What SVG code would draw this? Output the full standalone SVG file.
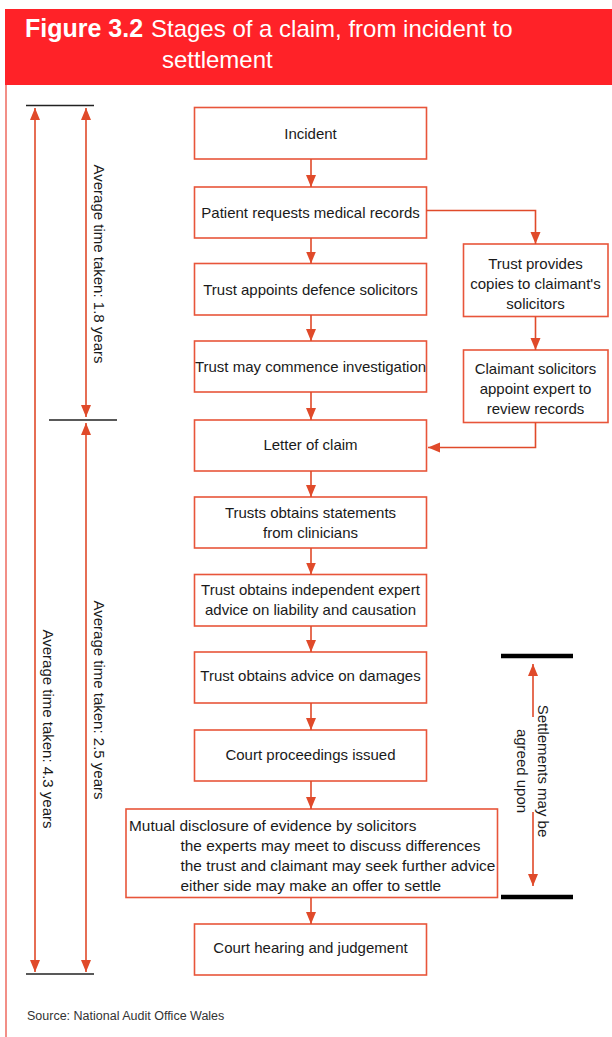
<svg xmlns="http://www.w3.org/2000/svg" width="612" height="1037" viewBox="0 0 612 1037">
<style>
  .box{fill:#fff;stroke:#E8553A;stroke-width:1.6}
  .t{font-family:"Liberation Sans",Arial,sans-serif;font-size:15px;fill:#1a1a1a;text-anchor:middle}
  .tl{font-family:"Liberation Sans",Arial,sans-serif;font-size:15.4px;fill:#1a1a1a}
  .c{fill:none;stroke:#E04A2A;stroke-width:1.6}
  .bar{stroke:#222;stroke-width:1.5}
  .thick{stroke:#000;stroke-width:4.5}
  .hd{font-family:"Liberation Sans",Arial,sans-serif;fill:#fff}
</style>
<defs>
  <marker id="ah" markerUnits="userSpaceOnUse" markerWidth="13" markerHeight="11" refX="12" refY="5" orient="auto-start-reverse" viewBox="0 0 13 11">
    <path d="M0,0 L12,5 L0,10 z" fill="#E04A2A"/>
  </marker>
</defs>
<rect x="0" y="0" width="612" height="1037" fill="#fff"/>
<g id="header">
  <rect x="5" y="9" width="607" height="76" fill="#FF2228"/>
  <text class="hd" x="25" y="37" font-size="25" font-weight="bold">Figure 3.2</text>
  <text class="hd" x="151" y="37" font-size="24">Stages of a claim, from incident to</text>
  <text class="hd" x="162" y="68" font-size="24">settlement</text>
</g>
<line x1="6" y1="85" x2="6" y2="1037" stroke="#EE6A5F" stroke-width="1.5"/>

<g id="timeline">
  <line class="bar" x1="26" y1="105.5" x2="94" y2="105.5"/>
  <line class="bar" x1="49" y1="420" x2="117" y2="420"/>
  <line class="bar" x1="26" y1="974" x2="94" y2="974"/>
  <text class="t" transform="translate(94,264) rotate(90)">Average time taken: 1.8 years</text>
  <text class="t" transform="translate(94,700) rotate(90)">Average time taken: 2.5 years</text>
  <text class="t" transform="translate(43,729) rotate(90)">Average time taken: 4.3 years</text>
</g>

<g id="settlement-range">
  <line class="thick" x1="501" y1="656" x2="573" y2="656"/>
  <line class="thick" x1="501" y1="897" x2="573" y2="897"/>
  <text class="t" transform="translate(538,771) rotate(90)">Settlements may be</text>
  <text class="t" transform="translate(517,771) rotate(90)">agreed upon</text>
</g>

<g id="n1"><rect class="box" x="194.5" y="107.5" width="232" height="51.5"/><text class="t" x="310.5" y="139">Incident</text></g>
<g id="n2"><rect class="box" x="194.5" y="187" width="232" height="51"/><text class="t" x="310.5" y="218">Patient requests medical records</text></g>
<g id="n3"><rect class="box" x="194.5" y="263.5" width="232" height="51.5"/><text class="t" x="310.5" y="295">Trust appoints defence solicitors</text></g>
<g id="n4"><rect class="box" x="194.5" y="341" width="232" height="51"/><text class="t" x="310.5" y="372">Trust may commence investigation</text></g>
<g id="n5"><rect class="box" x="194.5" y="420" width="232" height="51"/><text class="t" x="310.5" y="450">Letter of claim</text></g>
<g id="n6"><rect class="box" x="194.5" y="497" width="232" height="51"/><text class="t" x="310.5" y="518">Trusts obtains statements</text><text class="t" x="310.5" y="538">from clinicians</text></g>
<g id="n7"><rect class="box" x="194.5" y="574.5" width="232" height="51.5"/><text class="t" x="310.5" y="595">Trust obtains independent expert</text><text class="t" x="310.5" y="615">advice on liability and causation</text></g>
<g id="n8"><rect class="box" x="194.5" y="652" width="232" height="51"/><text class="t" x="310.5" y="681">Trust obtains advice on damages</text></g>
<g id="n9"><rect class="box" x="194.5" y="730" width="232" height="51"/><text class="t" x="310.5" y="760">Court proceedings issued</text></g>
<g id="n10"><rect class="box" x="126" y="809" width="371.5" height="88.5"/>
  <text class="tl" x="129" y="831">Mutual disclosure of evidence by solicitors</text>
  <text class="tl" x="180.5" y="851">the experts may meet to discuss differences</text>
  <text class="tl" x="180.5" y="871">the trust and claimant may seek further advice</text>
  <text class="tl" x="180.5" y="891">either side may make an offer to settle</text>
</g>
<g id="n11"><rect class="box" x="194.5" y="924" width="232" height="51"/><text class="t" x="310.5" y="953">Court hearing and judgement</text></g>
<g id="r1"><rect class="box" x="463.5" y="244" width="144.5" height="72.5"/><text class="t" x="535.5" y="269">Trust provides</text><text class="t" x="535.5" y="289">copies to claimant's</text><text class="t" x="535.5" y="309">solicitors</text></g>
<g id="r2"><rect class="box" x="463.5" y="350" width="144.5" height="72.5"/><text class="t" x="535.5" y="374">Claimant solicitors</text><text class="t" x="535.5" y="394">appoint expert to</text><text class="t" x="535.5" y="414">review records</text></g>

<g id="connectors">
  <line class="c" x1="311" y1="159" x2="311" y2="187" marker-end="url(#ah)"/>
  <line class="c" x1="311" y1="238" x2="311" y2="263.5" marker-end="url(#ah)"/>
  <line class="c" x1="311" y1="315" x2="311" y2="341" marker-end="url(#ah)"/>
  <line class="c" x1="311" y1="392" x2="311" y2="420" marker-end="url(#ah)"/>
  <line class="c" x1="311" y1="471" x2="311" y2="497" marker-end="url(#ah)"/>
  <line class="c" x1="311" y1="548" x2="311" y2="574.5" marker-end="url(#ah)"/>
  <line class="c" x1="311" y1="626" x2="311" y2="652" marker-end="url(#ah)"/>
  <line class="c" x1="311" y1="703" x2="311" y2="730" marker-end="url(#ah)"/>
  <line class="c" x1="311" y1="781" x2="311" y2="809" marker-end="url(#ah)"/>
  <line class="c" x1="311" y1="897.5" x2="311" y2="924" marker-end="url(#ah)"/>
  <polyline class="c" points="426.5,210.5 535.5,210.5 535.5,244" marker-end="url(#ah)"/>
  <line class="c" x1="535.5" y1="316.5" x2="535.5" y2="350" marker-end="url(#ah)"/>
  <polyline class="c" points="535.5,422.5 535.5,447.5 428,447.5" marker-end="url(#ah)"/>
  <line class="c" x1="35" y1="108" x2="35" y2="972" marker-start="url(#ah)" marker-end="url(#ah)"/>
  <line class="c" x1="86" y1="108" x2="86" y2="417" marker-start="url(#ah)" marker-end="url(#ah)"/>
  <line class="c" x1="86" y1="423" x2="86" y2="972" marker-start="url(#ah)" marker-end="url(#ah)"/>
  <line class="c" x1="533" y1="717" x2="533" y2="664" marker-end="url(#ah)"/>
  <line class="c" x1="533" y1="812" x2="533" y2="886" marker-end="url(#ah)"/>
</g>

<text x="27" y="1020" font-family="Liberation Sans, Arial, sans-serif" font-size="12.5" fill="#333">Source: National Audit Office Wales</text>
</svg>
